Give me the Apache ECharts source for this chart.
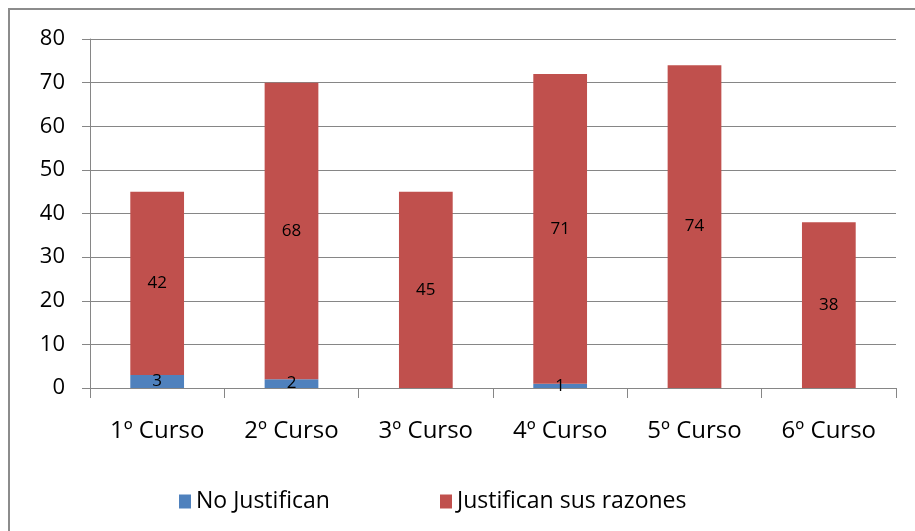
<!DOCTYPE html>
<html><head><meta charset="utf-8">
<script src="https://cdn.jsdelivr.net/npm/echarts@6/dist/echarts.min.js"></script>
<style>html,body{margin:0;padding:0;background:#fff}#c{width:915px;height:531px}</style>
</head><body><div id="c"></div>
<script>
var categories = ['1º Curso','2º Curso','3º Curso','4º Curso','5º Curso','6º Curso'];
var noJustifican = [3,2,0,1,0,0];
var justifican = [42,68,45,71,74,38];
var yTicks = {min:0,max:80,interval:10};

var font = 'Open Sans';
var chart = echarts.init(document.getElementById('c'));
function lbl(p){ return p.value === 0 ? '' : String(p.value); }
chart.setOption({
  animation:false,
  textStyle:{fontFamily:font},
  graphic:[{type:'rect',shape:{x:9,y:9,width:912,height:530},style:{fill:'none',stroke:'#8c8c8c',lineWidth:2},silent:true}],
  grid:{left:90,right:19,top:39,bottom:143,containLabel:false},
  legend:[
    {data:['No Justifican'],left:174,top:485,itemWidth:12,itemHeight:14,itemGap:6,icon:'rect',textStyle:{fontSize:23,color:'#000',fontFamily:font}},
    {data:['Justifican sus razones'],left:435,top:485,itemWidth:12,itemHeight:14,itemGap:6,icon:'rect',textStyle:{fontSize:23,color:'#000',fontFamily:font}}
  ],
  xAxis:{type:'category',data:categories,
    axisLine:{lineStyle:{color:'#868686',width:1}},
    axisTick:{show:true,length:10,interval:0,lineStyle:{color:'#868686'}},
    axisLabel:{fontSize:24,color:'#000',margin:31,fontFamily:font}},
  yAxis:{type:'value',min:yTicks.min,max:yTicks.max,interval:yTicks.interval,
    axisLine:{show:true,lineStyle:{color:'#868686'}},
    axisTick:{show:true,length:8,lineStyle:{color:'#868686'}},
    splitLine:{lineStyle:{color:'#868686',width:1}},
    axisLabel:{fontSize:22,color:'#000',margin:25,fontFamily:font}},
  series:[
    {name:'No Justifican',type:'bar',stack:'a',data:noJustifican,barWidth:'40%',
     itemStyle:{color:'#4F81BD'},
     label:{show:true,position:'inside',formatter:lbl,color:'#000',fontSize:17,fontFamily:font}},
    {name:'Justifican sus razones',type:'bar',stack:'a',data:justifican,barWidth:'40%',
     itemStyle:{color:'#C0504D'},
     label:{show:true,position:'inside',formatter:lbl,color:'#000',fontSize:17,fontFamily:font}}
  ]
});
</script></body></html>
